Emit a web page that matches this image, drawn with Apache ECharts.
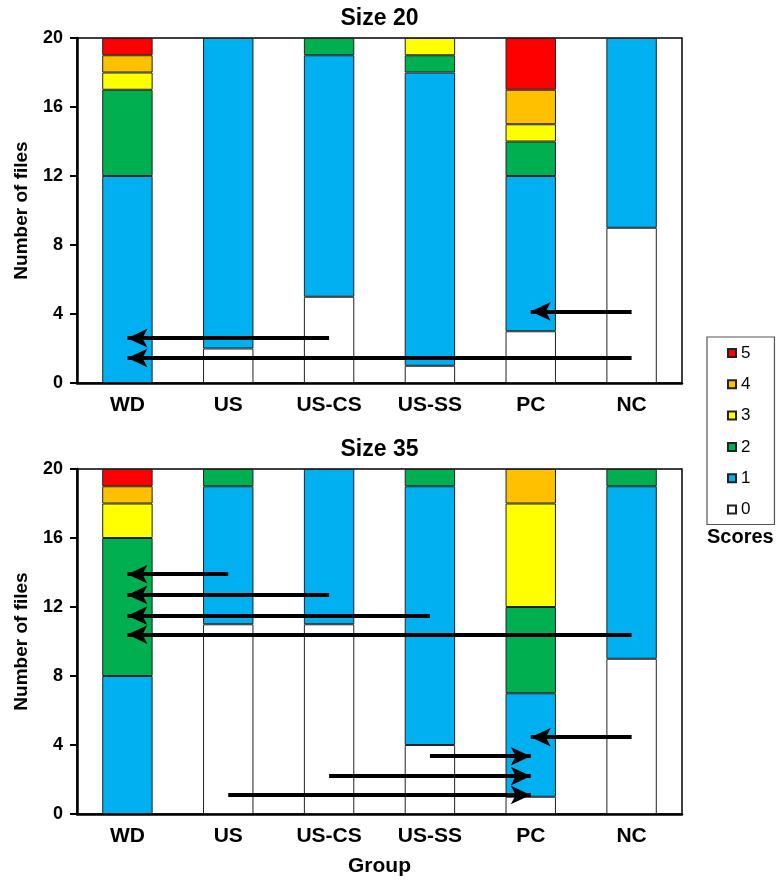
<!DOCTYPE html>
<html>
<head>
<meta charset="utf-8">
<script src="https://cdn.jsdelivr.net/npm/echarts@6/dist/echarts.min.js"></script>
<style>html,body{margin:0;padding:0;background:#fff}#c{width:779px;height:883px}</style>
</head>
<body>
<div id="c"></div>
<script>
// ---- data ----
var categories = ['WD', 'US', 'US-CS', 'US-SS', 'PC', 'NC'];
var scoreNames = ['0', '1', '2', '3', '4', '5'];
var legendOrder = ['5', '4', '3', '2', '1', '0'];
var yTicks = [0, 4, 8, 12, 16, 20];
var panelTitles = ['Size 20', 'Size 35'];

// Size 20: number of files per score, per group
var s20_0 = [0, 2, 5, 1, 3, 9];
var s20_1 = [12, 18, 14, 17, 9, 11];
var s20_2 = [5, 0, 1, 1, 2, 0];
var s20_3 = [1, 0, 0, 1, 1, 0];
var s20_4 = [1, 0, 0, 0, 2, 0];
var s20_5 = [1, 0, 0, 0, 3, 0];

// Size 35
var s35_0 = [0, 11, 11, 4, 1, 9];
var s35_1 = [8, 8, 9, 15, 6, 10];
var s35_2 = [8, 1, 0, 1, 5, 1];
var s35_3 = [2, 0, 0, 0, 6, 0];
var s35_4 = [1, 0, 0, 0, 2, 0];
var s35_5 = [1, 0, 0, 0, 0, 0];

// arrows: from group -> to group at a value level
var arrows20 = [
  {from: 'US-CS', to: 'WD', y: 2.6},
  {from: 'NC', to: 'WD', y: 1.45},
  {from: 'NC', to: 'PC', y: 4.15}
];
var arrows35 = [
  {from: 'US', to: 'WD', y: 13.9},
  {from: 'US-CS', to: 'WD', y: 12.7},
  {from: 'US-SS', to: 'WD', y: 11.5},
  {from: 'NC', to: 'WD', y: 10.4},
  {from: 'NC', to: 'PC', y: 4.45},
  {from: 'US-SS', to: 'PC', y: 3.35},
  {from: 'US-CS', to: 'PC', y: 2.2},
  {from: 'US', to: 'PC', y: 1.1}
];

// ---- styling ----
var colors = {'0': '#FFFFFF', '1': '#00B0F0', '2': '#00B050', '3': '#FFFF00', '4': '#FFC000', '5': '#FF0000'};
var FONT = '"Liberation Sans", Arial, sans-serif';
var panels = [
  {values: [s20_0, s20_1, s20_2, s20_3, s20_4, s20_5], arrows: arrows20, top: 38},
  {values: [s35_0, s35_1, s35_2, s35_3, s35_4, s35_5], arrows: arrows35, top: 469}
];
var GL = 77, GW = 605, GH = 345;

var grids = [], xAxes = [], yAxes = [], series = [], graphics = [];
panels.forEach(function (p, gi) {
  grids.push({left: GL, top: p.top, width: GW, height: GH, show: true, borderColor: '#000', borderWidth: 1.5, backgroundColor: '#fff'});
  xAxes.push({
    type: 'category', gridIndex: gi, data: categories,
    axisLine: {lineStyle: {color: '#000', width: 2.5}},
    axisTick: {length: 6, lineStyle: {color: '#000', width: 2}},
    axisLabel: {color: '#000', fontFamily: FONT, fontWeight: 'bold', fontSize: 21, margin: 12},
    name: gi === 1 ? 'Group' : '', nameLocation: 'middle', nameGap: 42,
    nameTextStyle: {color: '#000', fontFamily: FONT, fontWeight: 'bold', fontSize: 21}
  });
  yAxes.push({
    type: 'value', gridIndex: gi, min: yTicks[0], max: yTicks[yTicks.length - 1], interval: yTicks[1] - yTicks[0],
    splitLine: {show: false},
    axisLine: {show: true, lineStyle: {color: '#000', width: 2.5}},
    axisTick: {show: true, length: 7, lineStyle: {color: '#000', width: 2}},
    axisLabel: {color: '#000', fontFamily: FONT, fontWeight: 'bold', fontSize: 18, margin: 14},
    name: 'Number of files', nameLocation: 'middle', nameGap: 46,
    nameTextStyle: {color: '#000', fontFamily: FONT, fontWeight: 'bold', fontSize: 19}
  });
  scoreNames.forEach(function (s, si) {
    var ser = {
      name: s, type: 'bar', xAxisIndex: gi, yAxisIndex: gi, stack: 'panel' + gi,
      barWidth: '50%',
      data: p.values[si].map(function (v) { return v === 0 ? '-' : v; }),
      itemStyle: {color: colors[s], borderColor: '#222', borderWidth: 1},
      emphasis: {disabled: true},
      animation: false
    };
    if (si === scoreNames.length - 1) {
      ser.markLine = {
        silent: true, animation: false,
        symbol: ['none', 'arrow'],
        symbolSize: [14, 20],
        symbolOffset: [-9, 0],
        label: {show: false},
        lineStyle: {color: '#000', width: 4, type: 'solid'},
        emphasis: {disabled: true},
        data: p.arrows.map(function (a) {
          return [{coord: [categories.indexOf(a.from), a.y]}, {coord: [categories.indexOf(a.to), a.y]}];
        })
      };
    }
    series.push(ser);
  });
  graphics.push({
    type: 'text', x: GL + GW / 2, y: p.top - 19,
    style: {text: panelTitles[gi], textAlign: 'center', textVerticalAlign: 'middle', font: 'bold 23px ' + FONT, fill: '#000'}
  });
});

graphics.push({
  type: 'text', left: 707, top: 527,
  style: {text: 'Scores', font: 'bold 20px ' + FONT, fill: '#000'}
});

var chart = echarts.init(document.getElementById('c'), null, {renderer: 'canvas'});
chart.setOption({
  animation: false,
  grid: grids, xAxis: xAxes, yAxis: yAxes, series: series,
  legend: {
    data: legendOrder, orient: 'vertical', left: 707, top: 337,
    icon: 'rect', itemWidth: 8, itemHeight: 8, itemGap: 13.3, itemTextGap: 4,
    padding: [7, 24, 6, 20],
    borderColor: '#555', borderWidth: 1.2, selectedMode: false,
    textStyle: {color: '#000', fontFamily: FONT, fontSize: 17, lineHeight: 18}
  },
  graphic: graphics
});
</script>
</body>
</html>
